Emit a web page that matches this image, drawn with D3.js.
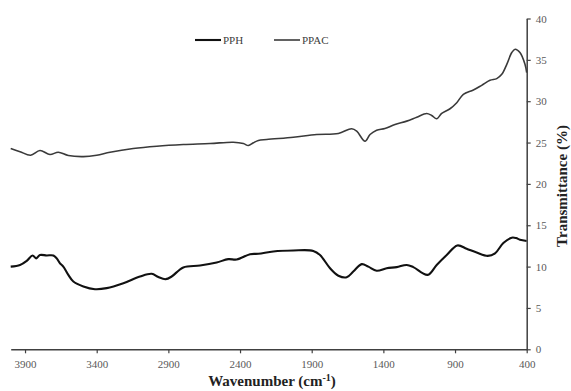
<!DOCTYPE html>
<html>
<head>
<meta charset="utf-8">
<script src="https://cdn.jsdelivr.net/npm/d3@7"></script>
<style>
  html, body { margin: 0; padding: 0; background: #fff; }
  svg { display: block; font-family: "Liberation Serif", "Times New Roman", serif; }
  .tick text { font-family: "Liberation Serif", "Times New Roman", serif; }
</style>
</head>
<body>
<svg id="chart" width="571" height="391"></svg>
<script>
// ---- data ----
const xTicks = [3900, 3400, 2900, 2400, 1900, 1400, 900, 400];
const yTicks = [0, 5, 10, 15, 20, 25, 30, 35, 40];
const seriesNames = ["PPH", "PPAC"];

const pphWave = [4000, 3935, 3888, 3847, 3823, 3796, 3749, 3703, 3679, 3656, 3633, 3598, 3563, 3493, 3412, 3330, 3214, 3098, 3016, 2970, 2919, 2877, 2796, 2679, 2563, 2482, 2423, 2330, 2272, 2168, 2028, 1889, 1842, 1772, 1714, 1656, 1610, 1551, 1505, 1447, 1377, 1307, 1237, 1191, 1091, 1028, 958, 884, 819, 749, 672, 621, 563, 504, 474, 447, 400];
const pphValue = [10.0, 10.2, 10.7, 11.35, 11.0, 11.4, 11.35, 11.35, 11.0, 10.4, 10.0, 9.0, 8.2, 7.6, 7.27, 7.4, 8.0, 8.8, 9.13, 8.73, 8.48, 8.8, 9.9, 10.13, 10.5, 10.9, 10.86, 11.5, 11.55, 11.83, 11.95, 11.9, 11.4, 9.8, 8.9, 8.7, 9.4, 10.3, 10.0, 9.5, 9.8, 9.94, 10.2, 9.94, 9.0, 10.2, 11.4, 12.56, 12.16, 11.7, 11.3, 11.6, 12.85, 13.5, 13.45, 13.25, 13.1];

const ppacWave = [4000, 3935, 3861, 3796, 3726, 3668, 3598, 3493, 3400, 3307, 3145, 2981, 2796, 2609, 2447, 2377, 2342, 2307, 2272, 2214, 2028, 1865, 1714, 1621, 1586, 1528, 1493, 1447, 1389, 1319, 1237, 1167, 1098, 1063, 1028, 993, 935, 888, 842, 772, 714, 656, 609, 574, 539, 504, 481, 447, 412, 400];
const ppacValue = [24.28, 23.9, 23.47, 24.04, 23.55, 23.83, 23.43, 23.3, 23.47, 23.83, 24.28, 24.56, 24.76, 24.88, 25.04, 24.88, 24.64, 24.97, 25.25, 25.37, 25.65, 25.97, 26.1, 26.67, 26.38, 25.16, 25.97, 26.5, 26.7, 27.19, 27.59, 28.07, 28.52, 28.28, 27.88, 28.52, 29.09, 29.82, 30.82, 31.35, 31.92, 32.52, 32.73, 33.25, 34.46, 35.88, 36.28, 35.88, 34.46, 33.45];

// ---- layout ----
const svg = d3.select("#chart");
const x = d3.scaleLinear().domain([4000, 400]).range([10.7, 526.7]);
const y = d3.scaleLinear().domain([0, 40]).range([349.3, 18.5]);
const axisColor = "#404040";
const labelColor = "#595959";
const serif = "Liberation Serif, Times New Roman, serif";

const line = d3.line()
  .x(d => x(d[0]))
  .y(d => y(d[1]))
  .curve(d3.curveCatmullRom.alpha(0.5));

const pph = pphWave.map((w, i) => [w, pphValue[i]]);
const ppac = ppacWave.map((w, i) => [w, ppacValue[i]]);

svg.append("path").datum(ppac)
  .attr("d", line).attr("fill", "none")
  .attr("stroke", "#3a3a3a").attr("stroke-width", 1.6);
svg.append("path").datum(pph)
  .attr("d", line).attr("fill", "none")
  .attr("stroke", "#111").attr("stroke-width", 2.1);

// x axis
const gx = svg.append("g").attr("transform", `translate(0,${y(0)})`)
  .call(d3.axisBottom(x).tickValues(xTicks).tickFormat(d3.format("d"))
    .tickSize(4).tickSizeOuter(0).tickPadding(7));
// y axis (right)
const gy = svg.append("g").attr("transform", `translate(${x(400)},0)`)
  .call(d3.axisRight(y).tickValues(yTicks).tickFormat(d3.format("d"))
    .tickSize(4).tickSizeOuter(0).tickPadding(5));

[gx, gy].forEach(g => {
  g.attr("font-family", serif).attr("font-size", 11);
  g.select(".domain").attr("stroke", axisColor).attr("stroke-width", 1.5);
  g.selectAll(".tick line").attr("stroke", axisColor).attr("stroke-width", 1.2);
  g.selectAll(".tick text").attr("fill", labelColor);
});

// axis titles
const xt = svg.append("text")
  .attr("x", 272).attr("y", 386)
  .attr("text-anchor", "middle")
  .attr("font-family", serif)
  .style("font-size", "15px").style("font-weight", "bold").attr("fill", "#222");
xt.append("tspan").text("Wavenumber (cm");
xt.append("tspan").text("-1").attr("dy", -5).style("font-size", "10px");
xt.append("tspan").text(")").attr("dy", 5);

svg.append("text")
  .attr("transform", "translate(567,186) rotate(-90)")
  .attr("text-anchor", "middle")
  .attr("font-family", serif)
  .style("font-size", "15px").style("font-weight", "bold").attr("fill", "#222")
  .text("Transmittance (%)");

// legend
const legendColors = ["#111", "#3a3a3a"];
const legendWidths = [2.1, 1.6];
const legendX = [195, 274];
seriesNames.forEach((name, i) => {
  const g = svg.append("g").attr("transform", `translate(${legendX[i]},40)`);
  g.append("line").attr("x1", 0).attr("x2", 26).attr("y1", 0).attr("y2", 0)
    .attr("stroke", legendColors[i]).attr("stroke-width", legendWidths[i]);
  g.append("text").attr("x", 28).attr("y", 4)
    .attr("font-family", serif)
    .style("font-size", "11px").attr("fill", axisColor).text(name);
});
</script>
</body>
</html>
